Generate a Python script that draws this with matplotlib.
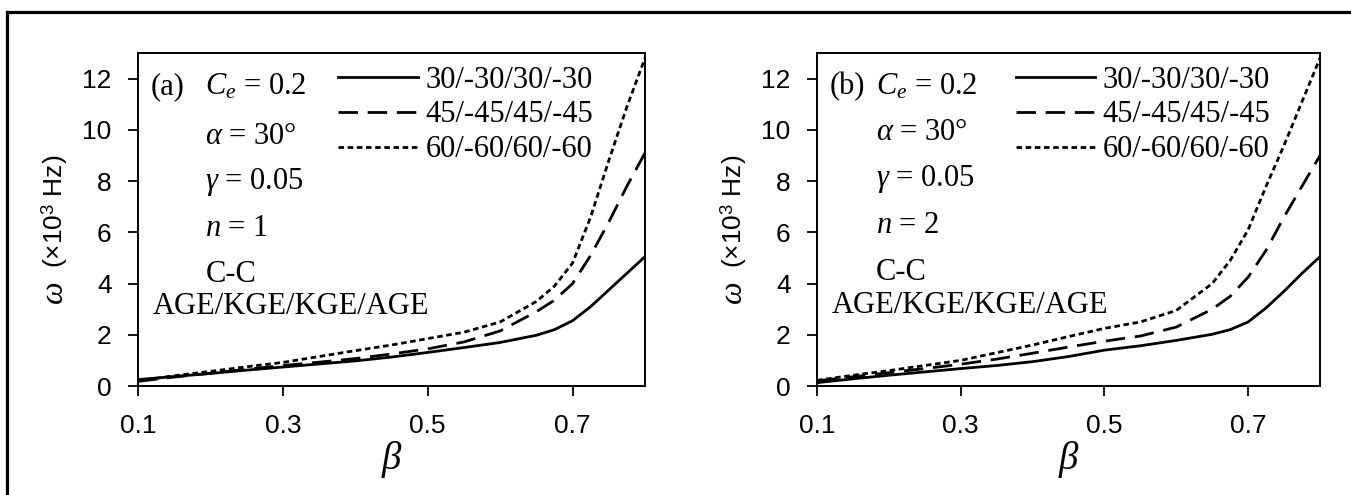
import matplotlib
matplotlib.use("Agg")
import matplotlib.pyplot as plt
from matplotlib.lines import Line2D

plt.rcParams['font.family'] = ['Liberation Sans', 'DejaVu Sans']
plt.rcParams['mathtext.fontset'] = 'custom'
plt.rcParams['mathtext.rm'] = 'Liberation Serif'
plt.rcParams['mathtext.it'] = 'Liberation Serif:italic'
plt.rcParams['mathtext.sf'] = 'Liberation Sans'

# ---------------- data ----------------
beta = [0.1, 0.15, 0.2, 0.25, 0.3, 0.35, 0.4, 0.45, 0.5, 0.55, 0.6, 0.65,
        0.675, 0.7, 0.725, 0.75, 0.775, 0.8]

a_30 = [0.25, 0.37, 0.49, 0.62, 0.74, 0.86, 0.98, 1.13, 1.31, 1.50, 1.70, 1.98,
        2.20, 2.55, 3.10, 3.75, 4.40, 5.05]
a_45 = [0.18, 0.35, 0.50, 0.65, 0.80, 0.93, 1.07, 1.25, 1.45, 1.72, 2.15, 2.90,
        3.35, 4.00, 5.10, 6.40, 7.80, 9.10]
a_60 = [0.20, 0.40, 0.57, 0.75, 0.92, 1.15, 1.38, 1.60, 1.85, 2.10, 2.50, 3.30,
        3.90, 4.80, 6.60, 8.80, 10.90, 12.80]

b_30 = [0.13, 0.28, 0.42, 0.55, 0.68, 0.80, 0.95, 1.15, 1.40, 1.57, 1.78, 2.02,
        2.20, 2.50, 3.05, 3.70, 4.40, 5.05]
b_45 = [0.20, 0.36, 0.52, 0.68, 0.85, 1.05, 1.28, 1.52, 1.75, 1.95, 2.30, 3.00,
        3.50, 4.25, 5.30, 6.60, 7.80, 9.00]
b_60 = [0.22, 0.42, 0.60, 0.80, 1.00, 1.30, 1.60, 1.93, 2.25, 2.50, 2.95, 4.00,
        4.90, 6.10, 7.80, 9.40, 11.10, 12.80]

series_labels = ["30/-30/30/-30", "45/-45/45/-45", "60/-60/60/-60"]
xticks = [0.1, 0.3, 0.5, 0.7]
xtick_labels = ["0.1", "0.3", "0.5", "0.7"]
yticks = [0, 2, 4, 6, 8, 10, 12]
panel_tags = ["(a)", "(b)"]
n_values = ["1", "2"]

# ---------------- styling ----------------
W, H = 1351, 495
fig = plt.figure(figsize=(W / 100, H / 100), dpi=100)

styles = [dict(linestyle='-'),
          dict(linestyle=(0, (7, 3.5))),
          dict(linestyle=(0, (2, 1.3)))]
LW = 2.0
SERIF = 'Liberation Serif'
TFS = 22

# outer frame (top and left edges visible)
fig.add_artist(Line2D([7 / W, 1.0], [1 - 12 / H, 1 - 12 / H],
                      transform=fig.transFigure, color='black', lw=2.3))
fig.add_artist(Line2D([7 / W, 7 / W], [0, 1 - 12 / H],
                      transform=fig.transFigure, color='black', lw=2.3))

axes_px = [(138, 645), (817, 1320)]
top_px, bot_px = 53, 386

panels = [(a_30, a_45, a_60), (b_30, b_45, b_60)]
for i, ((l, r), data) in enumerate(zip(axes_px, panels)):
    ax = fig.add_axes([l / W, (H - bot_px) / H, (r - l) / W, (bot_px - top_px) / H])
    handles = []
    for ys, st, lab in zip(data, styles, series_labels):
        h, = ax.plot(beta, ys, color='black', lw=LW, label=lab, **st)
        handles.append(h)
    ax.set_xlim(0.1, 0.8)
    ax.set_ylim(0, 13)
    ax.set_xticks(xticks)
    ax.set_xticklabels(xtick_labels)
    ax.set_yticks(yticks)
    ax.tick_params(direction='out', length=7, width=1.3, labelsize=19,
                   top=False, right=False)
    ax.tick_params(axis='x', pad=13)
    ax.tick_params(axis='y', pad=12)
    for sp in ax.spines.values():
        sp.set_linewidth(1.4)

    ax.legend(handles=handles, loc='upper left', bbox_to_anchor=(0.395, 0.962),
              frameon=False, prop={'family': SERIF, 'size': TFS},
              handlelength=2.6, handletextpad=0.25, labelspacing=0.19,
              borderaxespad=0, borderpad=0)

    xt = 0.118
    xp = 0.193 if i == 0 else 0.182
    ys_rows = [11.7, 9.75, 7.95, 6.15, 4.35, 3.1] if i == 0 else [11.7, 9.9, 8.1, 6.25, 4.45, 3.15]
    ax.text(xt, ys_rows[0], panel_tags[i], family=SERIF, fontsize=TFS, ha='left', va='center')
    ax.text(xp, ys_rows[0], r"$C_e$ = 0.2", family=SERIF, fontsize=TFS, ha='left', va='center')
    ax.text(xp, ys_rows[1], r"$\alpha$ = 30°", family=SERIF, fontsize=TFS, ha='left', va='center')
    ax.text(xp, ys_rows[2], r"$\gamma$ = 0.05", family=SERIF, fontsize=TFS, ha='left', va='center')
    ax.text(xp, ys_rows[3], r"$n$ = " + n_values[i], family=SERIF, fontsize=TFS, ha='left', va='center')
    ax.text(xp, ys_rows[4], "C-C", family=SERIF, fontsize=TFS, ha='left', va='center')
    ax.text(0.12, ys_rows[5], "AGE/KGE/KGE/AGE", family=SERIF, fontsize=TFS, ha='left', va='center')

    # axis labels
    cx = (l + r) / 2
    fig.text(cx / W, 1 - 460 / H, r"$\beta$", fontsize=28, ha='center', va='center')
    lx = l - 83
    fig.text(lx / W, 1 - 293 / H, r"$\omega$", fontsize=23, ha='center', va='center',
             rotation=90)
    fig.text(lx / W, 1 - 211 / H, r"(×10$^{\mathsf{3}}$ Hz)", fontsize=19, ha='center',
             va='center', rotation=90)

fig.savefig("out.png", dpi=100)
